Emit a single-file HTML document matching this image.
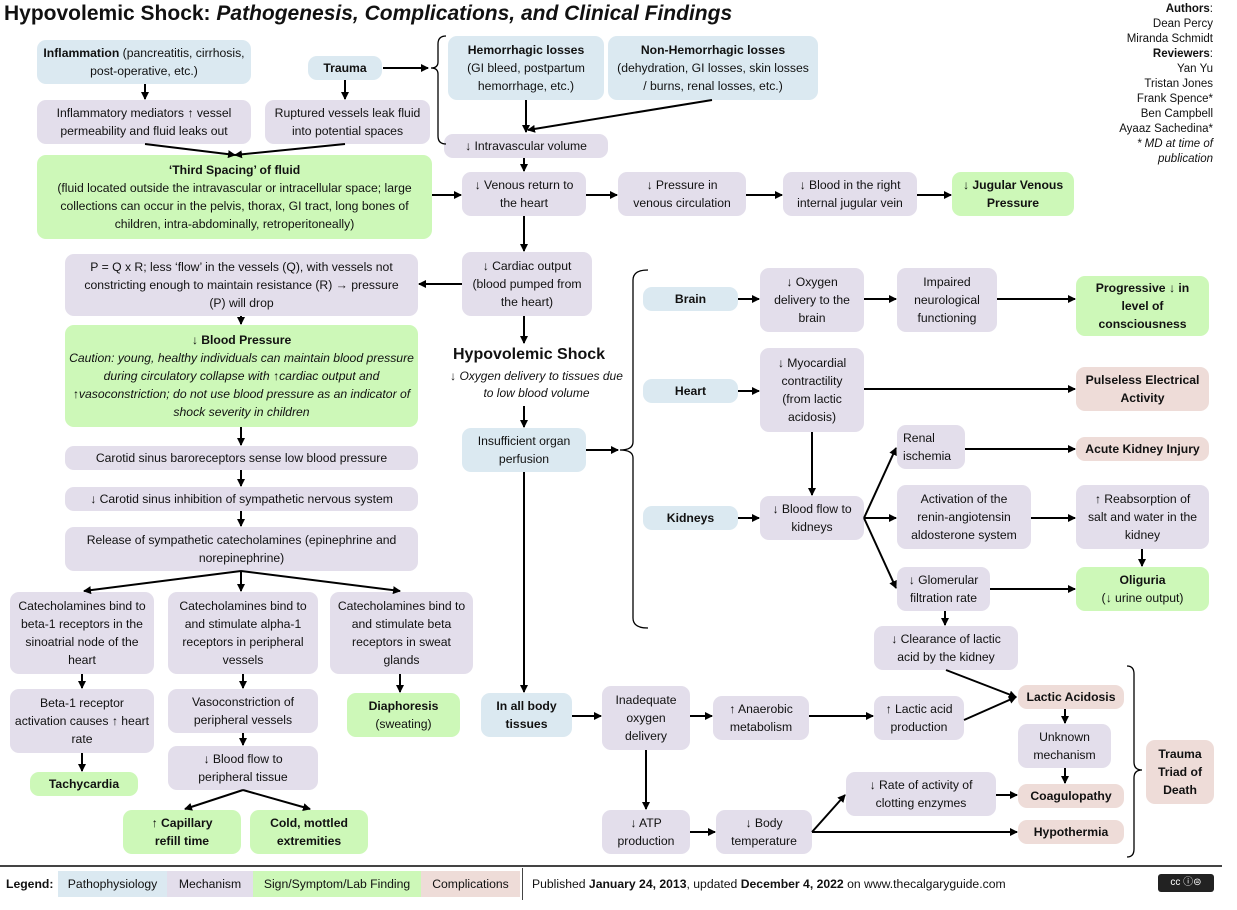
<!DOCTYPE html>
<html><head><meta charset="utf-8"><style>
body{margin:0;width:1237px;height:910px;position:relative;background:#fff;font-family:"Liberation Sans",sans-serif;color:#111;overflow:hidden}
.b{position:absolute;display:flex;align-items:center;justify-content:center;text-align:center;font-size:12.2px;line-height:18px;border-radius:9px;box-sizing:border-box;padding:0 3px}
.p{background:#dbe9f1}.m{background:#e3deeb}.g{background:#cdf8b8}.c{background:#eedcd8}
.t{position:absolute;font-size:12.2px;line-height:18px}
svg{position:absolute;left:0;top:0}
</style></head><body>
<div class="t" style="left:4px;top:1px;font-size:21px;line-height:26px;font-weight:bold;white-space:nowrap">Hypovolemic Shock: <i>Pathogenesis, Complications, and Clinical Findings</i></div>
<div class="t" style="right:24px;top:2px;text-align:right;font-size:11.5px;line-height:15px"><b>Authors</b>:<br>Dean Percy<br>Miranda Schmidt<br><b>Reviewers</b>:<br>Yan Yu<br>Tristan Jones<br>Frank Spence*<br>Ben Campbell<br>Ayaaz Sachedina*<br><i>* MD at time of<br>publication</i></div>

<div class="b p" style="left:37px;top:40px;width:214px;height:44px"><span><b>Inflammation</b> (pancreatitis, cirrhosis, post-operative, etc.)</span></div>
<div class="b p" style="left:308px;top:56px;width:74px;height:24px"><b>Trauma</b></div>
<div class="b m" style="left:37px;top:100px;width:214px;height:44px">Inflammatory mediators ↑ vessel permeability and fluid leaks out</div>
<div class="b m" style="left:265px;top:100px;width:165px;height:44px">Ruptured vessels leak fluid into potential spaces</div>
<div class="b g" style="left:37px;top:155px;width:395px;height:84px"><span><b>‘Third Spacing’ of fluid</b><br>(fluid located outside the intravascular or intracellular space; large collections can occur in the pelvis, thorax, GI tract, long bones of children, intra-abdominally, retroperitoneally)</span></div>
<div class="b m" style="left:65px;top:254px;width:353px;height:62px;padding:0 12px">P = Q x R; less ‘flow’ in the vessels (Q), with vessels not constricting enough to maintain resistance (R) → pressure (P) will drop</div>
<div class="b g" style="left:65px;top:325px;width:353px;height:102px"><span><b>↓ Blood Pressure</b><br><i>Caution: young, healthy individuals can maintain blood pressure during circulatory collapse with ↑cardiac output and ↑vasoconstriction; do not use blood pressure as an indicator of shock severity in children</i></span></div>
<div class="b m" style="left:65px;top:446px;width:353px;height:24px">Carotid sinus baroreceptors sense low blood pressure</div>
<div class="b m" style="left:65px;top:487px;width:353px;height:24px">↓ Carotid sinus inhibition of sympathetic nervous system</div>
<div class="b m" style="left:65px;top:527px;width:353px;height:44px">Release of sympathetic catecholamines (epinephrine and norepinephrine)</div>
<div class="b m" style="left:10px;top:592px;width:144px;height:82px">Catecholamines bind to beta-1 receptors in the sinoatrial node of the heart</div>
<div class="b m" style="left:168px;top:592px;width:150px;height:82px">Catecholamines bind to and stimulate alpha-1 receptors in peripheral vessels</div>
<div class="b m" style="left:330px;top:592px;width:143px;height:82px">Catecholamines bind to and stimulate beta receptors in sweat glands</div>
<div class="b m" style="left:10px;top:689px;width:144px;height:64px">Beta-1 receptor activation causes ↑ heart rate</div>
<div class="b m" style="left:168px;top:689px;width:150px;height:44px">Vasoconstriction of peripheral vessels</div>
<div class="b m" style="left:168px;top:746px;width:150px;height:44px;padding:0 12px">↓ Blood flow to peripheral tissue</div>
<div class="b g" style="left:30px;top:772px;width:108px;height:24px"><b>Tachycardia</b></div>
<div class="b g" style="left:347px;top:693px;width:113px;height:44px"><span><b>Diaphoresis</b><br>(sweating)</span></div>
<div class="b g" style="left:123px;top:810px;width:118px;height:44px"><b>↑ Capillary<br>refill time</b></div>
<div class="b g" style="left:250px;top:810px;width:118px;height:44px"><b>Cold, mottled extremities</b></div>

<div class="b p" style="left:448px;top:36px;width:156px;height:64px"><span><b>Hemorrhagic losses</b><br>(GI bleed, postpartum hemorrhage, etc.)</span></div>
<div class="b p" style="left:608px;top:36px;width:210px;height:64px;padding:0 8px"><span><b>Non-Hemorrhagic losses</b><br>(dehydration, GI losses, skin losses / burns, renal losses, etc.)</span></div>
<div class="b m" style="left:444px;top:134px;width:164px;height:24px">↓ Intravascular volume</div>
<div class="b m" style="left:462px;top:172px;width:124px;height:44px;padding:0 8px">↓ Venous return to the heart</div>
<div class="b m" style="left:618px;top:172px;width:128px;height:44px;padding:0 10px">↓ Pressure in venous circulation</div>
<div class="b m" style="left:783px;top:172px;width:134px;height:44px">↓ Blood in the right internal jugular vein</div>
<div class="b g" style="left:952px;top:172px;width:122px;height:44px"><b>↓ Jugular Venous Pressure</b></div>
<div class="b m" style="left:462px;top:252px;width:130px;height:64px">↓ Cardiac output (blood pumped from the heart)</div>
<div class="t" style="left:453px;top:346px;font-size:16px;font-weight:bold">Hypovolemic Shock</div>
<div class="t" style="left:444px;top:368px;width:185px;font-size:12px;line-height:17px;font-style:italic;text-align:center">↓ Oxygen delivery to tissues due to low blood volume</div>
<div class="b p" style="left:462px;top:428px;width:124px;height:44px;padding:0 12px">Insufficient organ perfusion</div>
<div class="b p" style="left:643px;top:287px;width:95px;height:24px"><b>Brain</b></div>
<div class="b p" style="left:643px;top:379px;width:95px;height:24px"><b>Heart</b></div>
<div class="b p" style="left:643px;top:506px;width:95px;height:24px"><b>Kidneys</b></div>
<div class="b m" style="left:760px;top:268px;width:104px;height:64px;padding:0 12px">↓ Oxygen delivery to the brain</div>
<div class="b m" style="left:760px;top:348px;width:104px;height:84px;padding:0 8px">↓ Myocardial contractility (from lactic acidosis)</div>
<div class="b m" style="left:760px;top:496px;width:104px;height:44px">↓ Blood flow to kidneys</div>
<div class="b m" style="left:897px;top:268px;width:100px;height:64px">Impaired neurological functioning</div>
<div class="b g" style="left:1076px;top:276px;width:133px;height:60px;padding:0 10px"><b>Progressive ↓ in level of consciousness</b></div>
<div class="b c" style="left:1076px;top:367px;width:133px;height:44px"><b>Pulseless Electrical Activity</b></div>
<div class="b m" style="left:897px;top:425px;width:68px;height:44px;justify-content:flex-start;text-align:left;padding-left:6px">Renal ischemia</div>
<div class="b c" style="left:1076px;top:437px;width:133px;height:24px"><b>Acute Kidney Injury</b></div>
<div class="b m" style="left:897px;top:485px;width:134px;height:64px;padding:0 8px">Activation of the renin-angiotensin aldosterone system</div>
<div class="b m" style="left:1076px;top:485px;width:133px;height:64px;padding:0 8px">↑ Reabsorption of salt and water in the kidney</div>
<div class="b m" style="left:897px;top:567px;width:93px;height:44px">↓ Glomerular filtration rate</div>
<div class="b g" style="left:1076px;top:567px;width:133px;height:44px"><span><b>Oliguria</b><br>(↓ urine output)</span></div>
<div class="b m" style="left:874px;top:626px;width:144px;height:44px;padding:0 12px">↓ Clearance of lactic acid by the kidney</div>
<div class="b m" style="left:874px;top:696px;width:90px;height:44px">↑ Lactic acid production</div>
<div class="b c" style="left:1018px;top:685px;width:106px;height:24px"><b>Lactic Acidosis</b></div>
<div class="b m" style="left:1018px;top:724px;width:93px;height:44px">Unknown mechanism</div>
<div class="b c" style="left:1018px;top:784px;width:106px;height:24px"><b>Coagulopathy</b></div>
<div class="b c" style="left:1018px;top:820px;width:106px;height:24px"><b>Hypothermia</b></div>
<div class="b c" style="left:1146px;top:740px;width:68px;height:64px"><b>Trauma Triad of Death</b></div>
<div class="b p" style="left:481px;top:693px;width:91px;height:44px"><b>In all body tissues</b></div>
<div class="b m" style="left:602px;top:686px;width:88px;height:64px">Inadequate oxygen delivery</div>
<div class="b m" style="left:713px;top:696px;width:96px;height:44px">↑ Anaerobic metabolism</div>
<div class="b m" style="left:846px;top:772px;width:150px;height:44px">↓ Rate of activity of clotting enzymes</div>
<div class="b m" style="left:602px;top:810px;width:88px;height:44px">↓ ATP production</div>
<div class="b m" style="left:716px;top:810px;width:96px;height:44px">↓ Body temperature</div>

<div style="position:absolute;left:0;top:865px;width:1222px;height:2px;background:#444"></div>
<div class="t" style="left:6px;top:875px;font-weight:bold">Legend:</div>
<div class="b p" style="left:58px;top:871px;width:109px;height:26px;border-radius:0">Pathophysiology</div>
<div class="b m" style="left:167px;top:871px;width:86px;height:26px;border-radius:0">Mechanism</div>
<div class="b g" style="left:253px;top:871px;width:168px;height:26px;border-radius:0">Sign/Symptom/Lab Finding</div>
<div class="b c" style="left:421px;top:871px;width:99px;height:26px;border-radius:0">Complications</div>
<div style="position:absolute;left:522px;top:868px;width:1px;height:32px;background:#444"></div>
<div class="t" style="left:532px;top:875px;white-space:nowrap">Published <b>January 24, 2013</b>, updated <b>December 4, 2022</b> on www.thecalgaryguide.com</div>
<div style="position:absolute;left:1158px;top:874px;width:56px;height:18px;background:#222;border-radius:3px;color:#fff;font-size:10px;line-height:18px;text-align:center">cc ⓘ⊜</div>

<svg width="1237" height="910" viewBox="0 0 1237 910">
<defs><marker id="a" markerWidth="8" markerHeight="8" refX="7" refY="4" orient="auto" markerUnits="userSpaceOnUse"><path d="M0,0 L8,4 L0,8 z" fill="#000"/></marker></defs>
<g stroke="#000" stroke-width="2" fill="none" marker-end="url(#a)">
<line x1="145" y1="84" x2="145" y2="99"/>
<line x1="345" y1="80" x2="345" y2="99"/>
<line x1="383" y1="68" x2="428" y2="68"/>
<line x1="145" y1="144" x2="235" y2="155"/>
<line x1="345" y1="144" x2="235" y2="155"/>
<line x1="526" y1="100" x2="526" y2="132"/>
<line x1="712" y1="100" x2="528" y2="130"/>
<line x1="524" y1="158" x2="524" y2="171"/>
<line x1="432" y1="195" x2="461" y2="195"/>
<line x1="586" y1="195" x2="617" y2="195"/>
<line x1="746" y1="195" x2="782" y2="195"/>
<line x1="917" y1="195" x2="951" y2="195"/>
<line x1="524" y1="216" x2="524" y2="251"/>
<line x1="462" y1="284" x2="419" y2="284"/>
<line x1="524" y1="316" x2="524" y2="343"/>
<line x1="241" y1="316" x2="241" y2="324"/>
<line x1="241" y1="427" x2="241" y2="445"/>
<line x1="241" y1="470" x2="241" y2="486"/>
<line x1="241" y1="511" x2="241" y2="526"/>
<line x1="241" y1="571" x2="84" y2="591"/>
<line x1="241" y1="571" x2="241" y2="591"/>
<line x1="241" y1="571" x2="400" y2="591"/>
<line x1="82" y1="674" x2="82" y2="688"/>
<line x1="243" y1="674" x2="243" y2="688"/>
<line x1="243" y1="733" x2="243" y2="745"/>
<line x1="82" y1="753" x2="82" y2="771"/>
<line x1="400" y1="674" x2="400" y2="692"/>
<line x1="243" y1="790" x2="185" y2="809"/>
<line x1="243" y1="790" x2="310" y2="809"/>
<line x1="524" y1="406" x2="524" y2="427"/>
<line x1="586" y1="450" x2="618" y2="450"/>
<line x1="738" y1="299" x2="759" y2="299"/>
<line x1="864" y1="299" x2="896" y2="299"/>
<line x1="997" y1="299" x2="1075" y2="299"/>
<line x1="738" y1="391" x2="759" y2="391"/>
<line x1="864" y1="389" x2="1075" y2="389"/>
<line x1="812" y1="432" x2="812" y2="495"/>
<line x1="738" y1="518" x2="759" y2="518"/>
<line x1="864" y1="518" x2="896" y2="448"/>
<line x1="864" y1="518" x2="896" y2="518"/>
<line x1="864" y1="518" x2="896" y2="588"/>
<line x1="965" y1="449" x2="1075" y2="449"/>
<line x1="1031" y1="518" x2="1075" y2="518"/>
<line x1="1142" y1="549" x2="1142" y2="566"/>
<line x1="990" y1="589" x2="1075" y2="589"/>
<line x1="945" y1="611" x2="945" y2="625"/>
<line x1="946" y1="670" x2="1016" y2="697"/>
<line x1="964" y1="720" x2="1016" y2="697"/>
<line x1="1065" y1="709" x2="1065" y2="723"/>
<line x1="1065" y1="768" x2="1065" y2="783"/>
<line x1="996" y1="795" x2="1017" y2="795"/>
<line x1="812" y1="832" x2="1017" y2="832"/>
<line x1="812" y1="832" x2="845" y2="795"/>
<line x1="524" y1="472" x2="524" y2="692"/>
<line x1="572" y1="716" x2="601" y2="716"/>
<line x1="690" y1="716" x2="712" y2="716"/>
<line x1="809" y1="716" x2="873" y2="716"/>
<line x1="646" y1="750" x2="646" y2="809"/>
<line x1="690" y1="832" x2="715" y2="832"/>
</g>
<g stroke="#000" stroke-width="1.3" fill="none">
<path d="M446,36 Q438,36 438,44 L438,62 Q438,68 431,68 Q438,68 438,74 L438,136 Q438,144 446,144"/>
<path d="M648,270 Q633,270 633,280 L633,442 Q633,450 620,450 Q633,450 633,458 L633,618 Q633,628 648,628"/>
<path d="M1127,666 Q1134,666 1134,674 L1134,762 Q1134,770 1142,770 Q1134,770 1134,778 L1134,849 Q1134,857 1127,857"/>
</g>
</svg>
</body></html>
